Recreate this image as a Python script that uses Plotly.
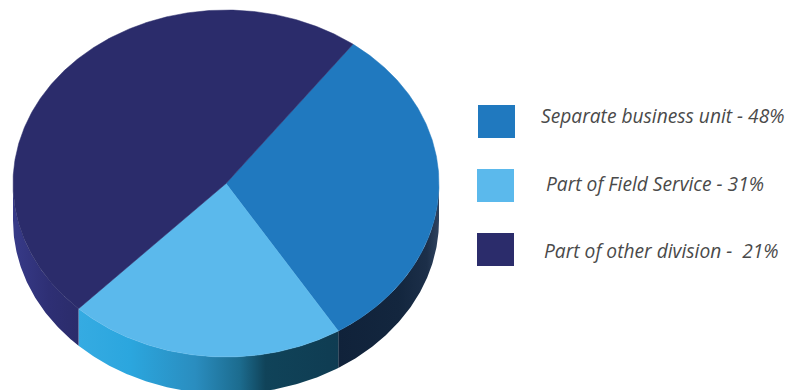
import numpy as np
import plotly.graph_objects as go

# Slice shares in percent, clockwise from the first slice
slice_names = ["Blue slice", "Light slice", "Navy slice"]
slice_shares = [31, 21, 48]
slice_colors = ["#2079bf", "#5bb9ec", "#2b2c6b"]

# Horizontal shading of the outer wall under each slice
wall_shades = [
    [[0.0, "#10223a"], [0.6, "#13263e"], [0.88, "#1c2f49"], [1.0, "#2f435f"]],
    [[0.0, "#35abe2"], [0.2, "#2ba6de"], [0.45, "#2a8dbf"], [0.62, "#1c6c8f"],
     [0.72, "#104359"], [1.0, "#0f3c52"]],
    [[0.0, "#373a88"], [0.55, "#2e2f74"], [1.0, "#2b2c6b"]],
]

legend_labels = ["Separate business unit - 48%", "Part of Field Service - 31%",
                 "Part of other division -  21%"]
legend_colors = ["#2079bf", "#5bb9ec", "#2b2c6b"]
legend_boxes = [(478, 105, 515, 138), (477, 169, 514, 202), (477, 233, 514, 266)]
legend_text_x = [539, 543.5, 542]
legend_text_y = [115, 183, 250]

# Pie geometry on a pixel-sized plot area
CX, CY, RX, RY = 226, 183.5, 213, 173.5
DEPTH = 37
START_ANGLE = 36.6


def arc(a0, a1, drop=0.0):
    t = np.radians(np.linspace(a0, a1, max(2, int(abs(a1 - a0) * 2))))
    return CX + RX * np.sin(t), CY - RY * np.cos(t) + drop


edges = START_ANGLE + np.concatenate([[0], np.cumsum(slice_shares)]) * 3.6

fig = go.Figure()

# Outer wall: only the part of the rim that faces the viewer
for i, shade in enumerate(wall_shades):
    a0, a1 = max(edges[i], 90), min(edges[i + 1], 270)
    if a1 <= a0:
        continue
    xt, yt = arc(a0, a1)
    xb, yb = arc(a0, a1, DEPTH)
    fig.add_trace(go.Scatter(
        x=np.concatenate([xt, xb[::-1]]), y=np.concatenate([yt, yb[::-1]]),
        mode="lines", line=dict(width=0), fill="toself",
        fillgradient=dict(type="horizontal", colorscale=shade),
        hoverinfo="skip", showlegend=False))

# Top face
for i, name in enumerate(slice_names):
    xa, ya = arc(edges[i], edges[i + 1])
    fig.add_trace(go.Scatter(
        x=np.concatenate([[CX], xa, [CX]]), y=np.concatenate([[CY], ya, [CY]]),
        mode="lines", line=dict(width=0.5, color=slice_colors[i]),
        fill="toself", fillcolor=slice_colors[i], name=name,
        hoverinfo="skip", showlegend=False))

shapes = [dict(type="rect", x0=b[0], y0=b[1], x1=b[2], y1=b[3], xref="x", yref="y",
               fillcolor=c, line=dict(width=0))
          for b, c in zip(legend_boxes, legend_colors)]

annotations = [dict(x=x, y=y, xref="x", yref="y", text=f"<i>{t}</i>", showarrow=False,
                    xanchor="left", yanchor="middle",
                    font=dict(family="Open Sans", size=19.2, color="#4a4a4a"))
               for t, x, y in zip(legend_labels, legend_text_x, legend_text_y)]

fig.update_layout(
    width=796, height=390, autosize=False,
    margin=dict(l=0, r=0, t=0, b=0),
    paper_bgcolor="white", plot_bgcolor="white",
    xaxis=dict(range=[0, 796], visible=False, fixedrange=True),
    yaxis=dict(range=[390, 0], visible=False, fixedrange=True),
    shapes=shapes, annotations=annotations, showlegend=False,
)

fig.write_html("out.html", config={"displayModeBar": False})
